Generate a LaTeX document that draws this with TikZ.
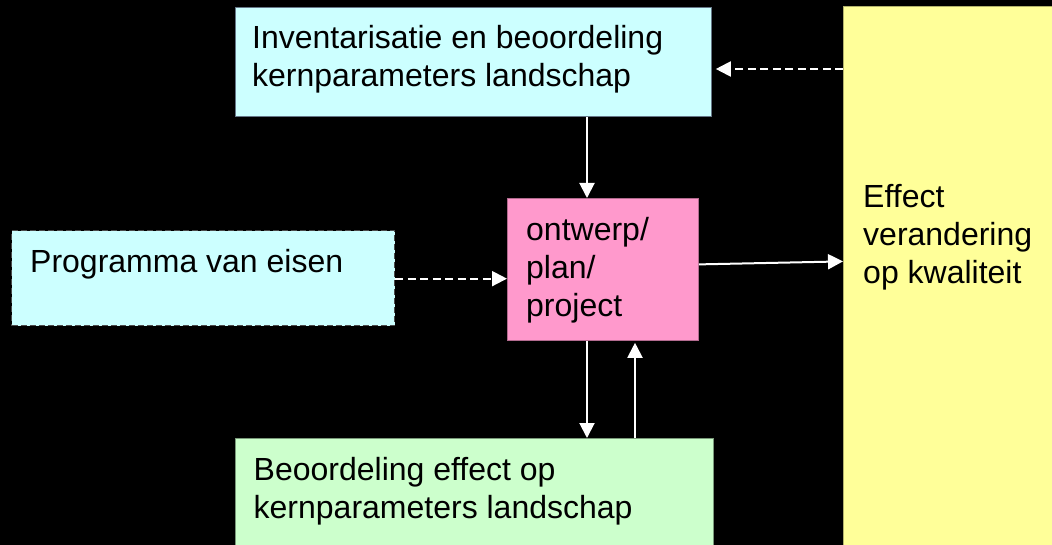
\documentclass[tikz,border=0pt]{standalone}
\usepackage{fontspec}
\setmainfont{Liberation Sans}
\usetikzlibrary{arrows.meta}
\definecolor{cyanbox}{HTML}{CCFFFF}
\definecolor{pinkbox}{HTML}{FF99CC}
\definecolor{yellowbox}{HTML}{FFFF99}
\definecolor{greenbox}{HTML}{CCFFCC}
\definecolor{edgegray}{HTML}{667788}
\newcommand\stacklines[1]{\vtop{#1}}
\begin{document}
\begin{tikzpicture}[x=1pt,y=1pt,
  box/.style={rectangle, anchor=north west, inner sep=0pt, draw=edgegray, line width=0.8pt},
  txt/.style={anchor=base west, inner sep=0pt, font=\fontsize{32}{38}\selectfont, text=black},
  solidarrow/.style={draw=white, line width=2pt, -{Triangle[length=15pt,width=15pt]}},
  dasharrow/.style={solidarrow, dash pattern=on 8pt off 4.5pt}]
\useasboundingbox[fill=black] (0,0) rectangle (1052,-545);
% boxes
\node[box, fill=cyanbox, minimum width=476pt, minimum height=109pt] (inv) at (235,-7) {};
\node[box, fill=cyanbox, draw=black!70, line width=1.3pt, dash pattern=on 6pt off 3pt, minimum width=383pt, minimum height=95pt] (prog) at (11,-230) {};
\node[box, fill=pinkbox, draw=pinkbox!70!black, minimum width=191pt, minimum height=142pt] (ontw) at (507,-198) {};
\node[box, fill=yellowbox, draw=yellowbox!70!black, minimum width=220pt, minimum height=550pt] (eff) at (843,-6) {};
\node[box, fill=greenbox, draw=greenbox!60!black, minimum width=478pt, minimum height=120pt] (beo) at (235,-438) {};
% texts
\node[txt] (tinv) at (252,-49) {\stacklines{\hbox{Inventarisatie en beoordeling}\hbox{kernparameters landschap}}};
\node[txt] (tprog) at (30,-273) {Programma van eisen};
\node[txt] (tontw) at (526,-241) {\stacklines{\hbox{ontwerp/}\hbox{plan/}\hbox{project}}};
\node[txt] (teff) at (863,-208) {\stacklines{\hbox{Effect}\hbox{verandering}\hbox{op kwaliteit}}};
\node[txt] (tbeo) at (253.5,-480) {\stacklines{\hbox{Beoordeling effect op}\hbox{kernparameters landschap}}};
% connector anchors
\coordinate (ya) at (0,-69);
\coordinate (xa) at (587,0);
\coordinate (xb) at (635,0);
% connectors
\draw[dasharrow, shorten >=4pt] (eff.west |- ya) -- (inv.east |- ya);
\draw[solidarrow] (xa |- inv.south) -- (xa |- ontw.north);
\draw[dasharrow] ([yshift=-0.5pt]prog.east) -- ([yshift=-0.5pt]prog.east -| ontw.west);
\draw[solidarrow] ([yshift=5pt]ontw.east) -- ([yshift=8pt]ontw.east -| eff.west);
\draw[solidarrow] (xa |- ontw.south) -- (xa |- beo.north);
\draw[solidarrow, shorten >=2pt] (xb |- beo.north) -- (xb |- ontw.south);
\end{tikzpicture}
\end{document}
